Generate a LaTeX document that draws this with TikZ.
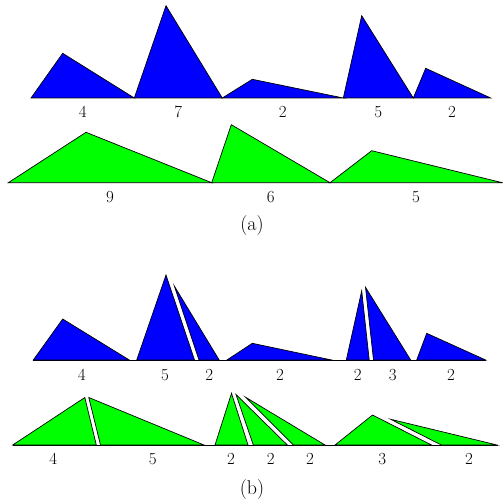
\documentclass[tikz,border=0pt]{standalone}
\usepackage{tikz}
\definecolor{pieceblue}{RGB}{0,0,255}
\definecolor{piecegreen}{RGB}{0,255,0}

\begin{document}
\begin{tikzpicture}[x=1bp,y=-1bp,line join=miter,
  bpiece/.style={draw=black,line width=0.7bp,fill=pieceblue},
  gpiece/.style={draw=black,line width=0.7bp,fill=piecegreen},
  base/.style={draw=black,line width=0.7bp},
  lbl/.style={inner sep=0pt,font=\fontsize{17}{20}\selectfont},
  sublbl/.style={inner sep=0pt,font=\fontsize{20}{24}\selectfont}]
  \useasboundingbox (0,0) rectangle (503,504);
  % (a) blue row
  \path[bpiece] (31,98) -- (62.7,53.3) -- (134.3,98) -- cycle;
  \path[bpiece] (134.3,98) -- (166,5.7) -- (222.3,98) -- cycle;
  \path[bpiece] (222.3,98) -- (252.3,79.3) -- (343.3,98) -- cycle;
  \path[bpiece] (343.3,98) -- (361.7,15.7) -- (413.3,98) -- cycle;
  \path[bpiece] (413.3,98) -- (425.7,68.3) -- (490.7,98) -- cycle;
  \node[lbl] (ab1) at (82.7,112) {4};
  \node[lbl] (ab2) at (178.3,112) {7};
  \node[lbl] (ab3) at (282.8,112) {2};
  \node[lbl] (ab4) at (378.3,112) {5};
  \node[lbl] (ab5) at (452,112) {2};
  % (a) green row
  \path[gpiece] (8.3,182.7) -- (86,132.3) -- (211.7,182.7) -- cycle;
  \path[gpiece] (211.7,182.7) -- (231.3,124.7) -- (330,182.7) -- cycle;
  \path[gpiece] (330,182.7) -- (371.7,150.7) -- (502.3,182.7) -- cycle;
  \node[lbl] (ag1) at (110,196.7) {9};
  \node[lbl] (ag2) at (270.8,196.7) {6};
  \node[lbl] (ag3) at (416,196.7) {5};
  \node[sublbl] (suba) at (252,226) {(a)};
  % (b) blue row
  \path[base] (33.3,360) -- (485.7,360);
  \path[bpiece] (33.3,360) -- (62.7,319) -- (129.3,360) -- cycle;
  \path[bpiece] (136.7,360) -- (166,275) -- (194.5,360) -- cycle;
  \path[bpiece] (174.3,286) -- (199,360) -- (219.2,360) -- cycle;
  \path[bpiece] (226.9,360) -- (252.3,343.3) -- (331.7,360) -- cycle;
  \path[bpiece] (346.3,360) -- (361.7,290.8) -- (369.2,360) -- cycle;
  \path[bpiece] (365.5,287.3) -- (373.5,360) -- (410.7,360) -- cycle;
  \path[bpiece] (416.7,360) -- (426.7,333.3) -- (485.7,360) -- cycle;
  \node[lbl] (bb1) at (81.7,375) {4};
  \node[lbl] (bb2) at (165,375) {5};
  \node[lbl] (bb3) at (209.3,375) {2};
  \node[lbl] (bb4) at (280,375) {2};
  \node[lbl] (bb5) at (357.7,375) {2};
  \node[lbl] (bb6) at (392.7,375) {3};
  \node[lbl] (bb7) at (451,375) {2};
  % (b) green row
  \path[base] (12.7,445) -- (497.7,445);
  \path[gpiece] (12.7,445) -- (84.8,397.5) -- (96.3,445) -- cycle;
  \path[gpiece] (88.8,397.5) -- (100.5,445) -- (204,445) -- cycle;
  \path[gpiece] (215,445) -- (231.5,393.3) -- (248,445) -- cycle;
  \path[gpiece] (236,394.5) -- (253.3,445) -- (287.3,445) -- cycle;
  \path[gpiece] (245.7,397.3) -- (293.3,445) -- (325,445) -- cycle;
  \path[gpiece] (335,445) -- (372.5,415) -- (431.5,445) -- cycle;
  \path[gpiece] (390.7,419.3) -- (441.3,445) -- (497,445) -- cycle;
  \node[lbl] (bg1) at (53.3,459.3) {4};
  \node[lbl] (bg2) at (152.7,459.3) {5};
  \node[lbl] (bg3) at (231,459.3) {2};
  \node[lbl] (bg4) at (270.7,459.3) {2};
  \node[lbl] (bg5) at (310,459.3) {2};
  \node[lbl] (bg6) at (382.3,459.3) {3};
  \node[lbl] (bg7) at (469,459.3) {2};
  \node[sublbl] (subb) at (252,490) {(b)};
\end{tikzpicture}
\end{document}
